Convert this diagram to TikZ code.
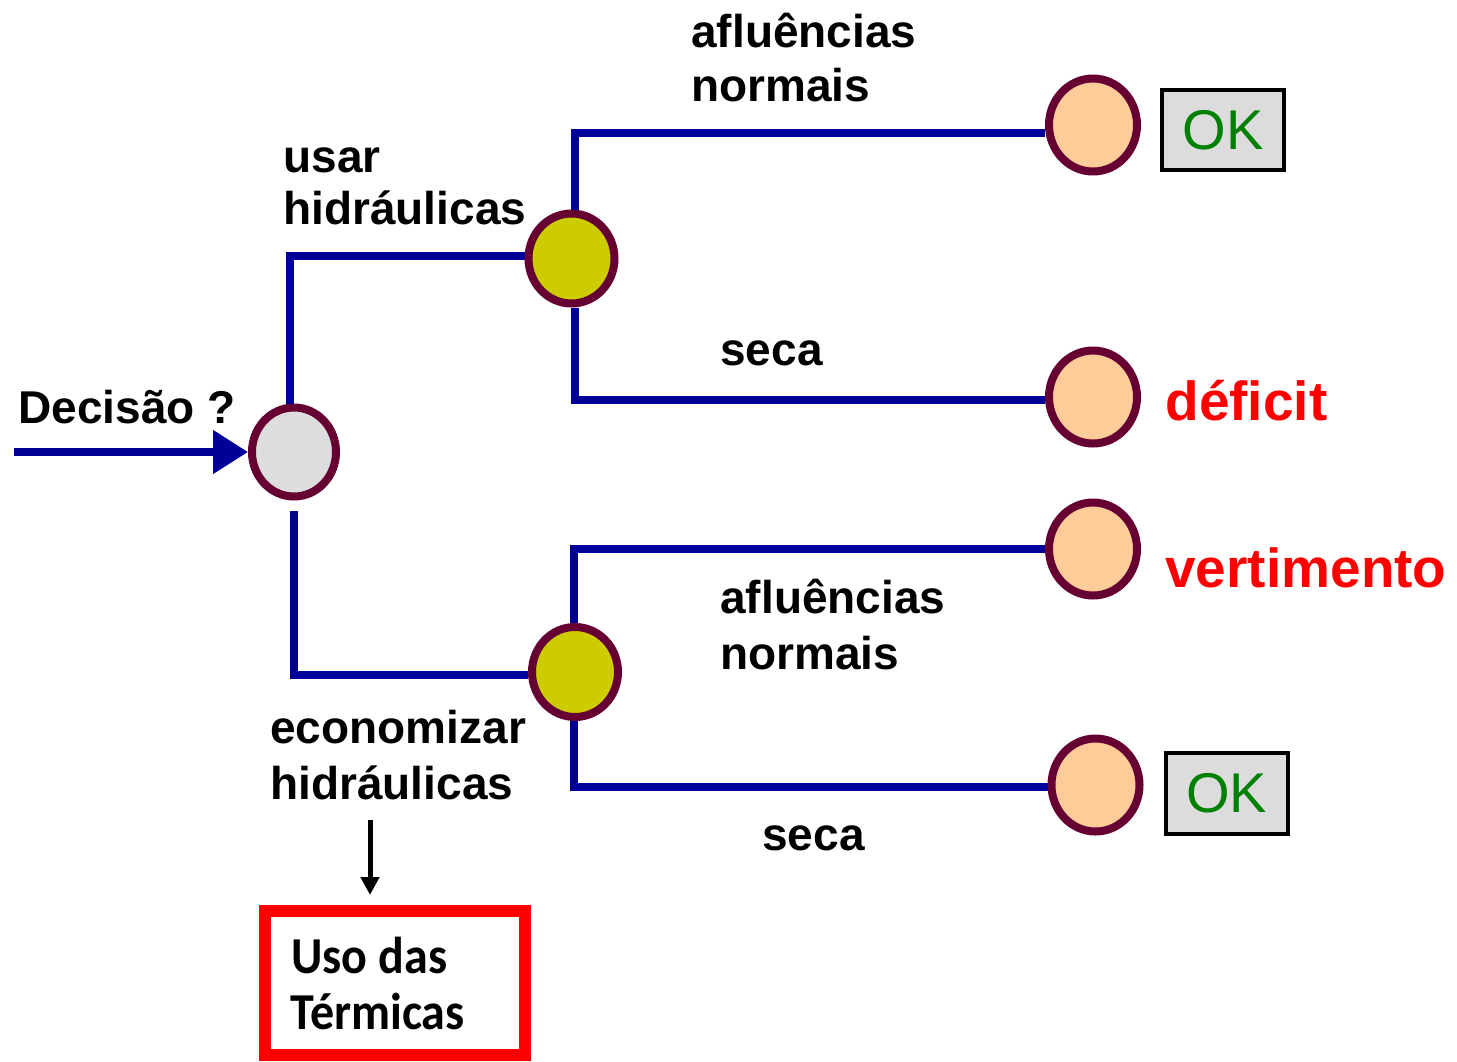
\documentclass[tikz,border=0pt]{standalone}
\usepackage{fontspec}
\setmainfont{Liberation Sans}
\newfontfamily\calib{Carlito}
\usetikzlibrary{shapes.geometric,arrows.meta}
\definecolor{navyline}{HTML}{000099}
\definecolor{rimcol}{HTML}{660033}
\definecolor{greyfill}{HTML}{DDDDDD}
\definecolor{yellowfill}{HTML}{CCCC00}
\definecolor{peachfill}{HTML}{FFCC99}
\definecolor{okgreen}{HTML}{008000}
\definecolor{okfill}{HTML}{DCDCDC}
\begin{document}
\begin{tikzpicture}[x=0.5pt,y=-0.5pt,
  lbl/.style={anchor=base west,inner sep=0pt,font=\bfseries\fontsize{23}{27}\selectfont},
  redlbl/.style={anchor=base west,inner sep=0pt,text=red,font=\bfseries\fontsize{27.5}{32}\selectfont},
  chance/.style={ellipse,draw=rimcol,line width=4pt,inner sep=0pt,minimum width=43pt,minimum height=45pt},
  branch/.style={draw=navyline,line width=4pt},
  okbox/.style={draw=black,line width=2pt,fill=okfill,inner sep=0pt,minimum width=61pt,minimum height=40pt,text=okgreen,font=\fontsize{28}{32}\selectfont},
  thermtxt/.style={anchor=base west,inner sep=0pt,font=\calib\bfseries\fontsize{24}{28}\selectfont}]
\useasboundingbox[fill=white] (0,0) rectangle (1457,1061);

% chance nodes
\node[chance,fill=greyfill,minimum width=42pt,minimum height=44.5pt] (g) at (294,452) {};
\node[chance,fill=yellowfill] (y1) at (571.5,258.5) {};
\node[chance,fill=yellowfill] (y2) at (575,672) {};
\node[chance,fill=peachfill,minimum width=44pt,minimum height=46.5pt] (p1) at (1093,125) {};
\node[chance,fill=peachfill,minimum width=44pt,minimum height=46.5pt] (p2) at (1093,397) {};
\node[chance,fill=peachfill,minimum width=44pt,minimum height=46.5pt] (p3) at (1093,549) {};
\node[chance,fill=peachfill,minimum width=44pt,minimum height=46.5pt] (p4) at (1095.5,785) {};

% connectors
\coordinate (in) at (14,452);
\draw[branch,-{Triangle[length=17.5pt,width=21pt]}] (in) -- (g.west);
\draw[branch] ([xshift=-2pt]g.north) |- ([yshift=1.5pt]y1.west);
\draw[branch] ([yshift=-5pt]g.south) |- ([yshift=-1.5pt]y2.west);
\draw[branch] ([xshift=1.5pt]y1.north) |- ([yshift=-4pt]p1.west);
\draw[branch] ([xshift=1.5pt]y1.south) |- ([yshift=-1.5pt]p2.west);
\draw[branch] ([xshift=-0.5pt]y2.north) |- (p3.west);
\draw[branch] ([xshift=-0.5pt]y2.south) |- ([yshift=-1pt]p4.west);

% labels
\node[lbl] (ta1) at (691,47) {afluências};
\node[lbl] (ta2) at (691,101) {normais};
\node[lbl] (tu1) at (283,172) {usar};
\node[lbl] (tu2) at (283,224) {hidráulicas};
\node[lbl] (ts1) at (720,365) {seca};
\node[lbl] (td) at (18,423) {Decisão ?};
\node[lbl] (tb1) at (720,613) {afluências};
\node[lbl] (tb2) at (720,669) {normais};
\node[lbl] (ts2) at (762,850) {seca};
\node[lbl] (te1) at (270,743) {economizar};
\node[lbl] (te2) at (270,799) {hidráulicas};

\node[redlbl] (tdef) at (1165,420) {déficit};
\node[redlbl] (tver) at (1165,587) {vertimento};

\node[okbox] (ok1) at (1223,130) {OK};
\node[okbox,minimum height=40.5pt] (ok2) at (1226.5,793.5) {OK};

% thermal box
\node[draw=red,line width=6pt,inner sep=0pt,minimum width=130.25pt,minimum height=72pt] (t) at (394.75,983) {};
\node[thermtxt] (tt1) at (291,973) {\scalebox{1}[1.08]{Uso das}};
\node[thermtxt] (tt2) at (290,1029) {\scalebox{1}[1.08]{Térmicas}};

\coordinate (a0) at (370,820);
\draw[line width=2.5pt,-{Triangle[length=9pt,width=9pt]},shorten >=5pt] (a0) -- (a0 |- t.north);
\end{tikzpicture}
\end{document}
